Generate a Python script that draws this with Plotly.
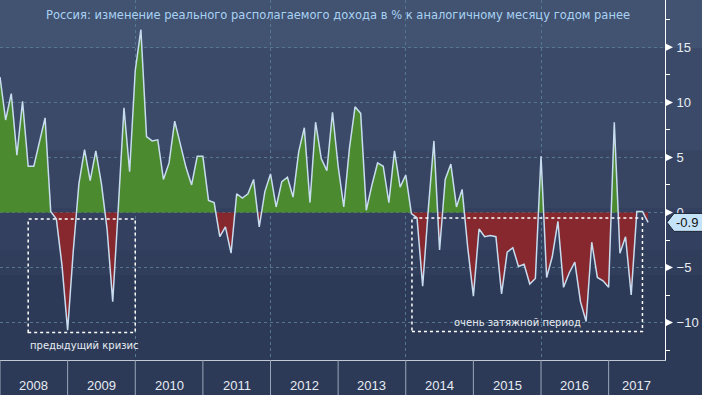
import plotly.graph_objects as go

# ---------------- data ----------------
years = ["2008", "2009", "2010", "2011", "2012", "2013", "2014", "2015", "2016", "2017"]
# Real disposable income, % y/y, monthly from Jan 2008
income_change = [
    12.3, 8.4, 10.8, 5.2, 10.1, 4.2, 4.2, 6.4, 8.6, 0.1, -0.6, -4.8,      # 2008
    -10.7, -3.5, 2.6, 5.7, 2.9, 5.6, 2.6, -1.5, -8.1, 0.5, 9.5, 3.7,      # 2009
    12.9, 16.6, 6.9, 6.5, 6.6, 3.0, 4.5, 8.3, 6.1, 4.1, 2.5, 5.1,         # 2010
    5.1, 1.1, 0.9, -2.2, -1.3, -3.7, 1.7, 1.3, 1.7, 3.0, -1.3, 1.9,       # 2011
    3.5, 0.5, 2.8, 3.2, 1.4, 5.5, 7.7, 0.9, 8.2, 4.9, 3.8, 9.1,           # 2012
    4.2, 0.5, 5.8, 9.6, 9.0, 0.2, 2.5, 4.5, 4.2, 0.9, 5.6, 2.3,           # 2013
    3.4, -0.1, -0.5, -6.7, 0.3, 6.5, -3.4, 3.0, 4.4, 0.5, 2.1, -3.2,      # 2014
    -7.6, -1.5, -2.2, -2.1, -2.2, -7.4, -3.6, -3.2, -4.9, -4.7, -6.5, -6.0,  # 2015
    5.1, -5.9, -4.0, -0.8, -6.8, -5.5, -4.5, -8.1, -9.9, -2.7, -5.9, -6.2,   # 2016
    -6.8, 8.2, -3.7, -2.2, -7.5, 0.1, 0.1, -0.9,                          # 2017
]
y_tick_vals = [-10, -5, 0, 5, 10, 15]
y_minor_vals = [-12.5, -7.5, -2.5, 2.5, 7.5, 12.5, 17.5]
title_text = "Россия: изменение реального располагаемого дохода в % к аналогичному месяцу годом ранее"
crisis_prev_text = "предыдущий кризис"
crisis_long_text = "очень затяжной период"

months = list(range(len(income_change)))
XMAX = 118.0
YMIN, YMAX = -13.4, 19.3
PLOT_H = 360.0

# insert zero crossings so that the two-colour fill meets exactly at 0
def with_crossings(xs, ys):
    px, py = [], []
    for i in range(len(xs)):
        if i > 0:
            y0, y1 = ys[i - 1], ys[i]
            if (y0 > 0 > y1) or (y0 < 0 < y1):
                xc = xs[i - 1] + (xs[i] - xs[i - 1]) * y0 / (y0 - y1)
                px.append(xc)
                py.append(0.0)
        px.append(xs[i])
        py.append(ys[i])
    return px, py

fx, fy = with_crossings(months, income_change)
pos = [max(v, 0.0) for v in fy]
neg = [min(v, 0.0) for v in fy]

fig = go.Figure()
fig.add_trace(go.Scatter(x=fx, y=pos, mode="none", fill="tozeroy",
                         fillcolor="#4b8a2e", hoverinfo="skip", showlegend=False))
fig.add_trace(go.Scatter(x=fx, y=neg, mode="none", fill="tozeroy",
                         fillcolor="#86282e", hoverinfo="skip", showlegend=False))
fig.add_trace(go.Scatter(x=months, y=income_change, mode="lines",
                         line=dict(color="#c8dcef", width=1.5),
                         hoverinfo="skip", showlegend=False))

shapes = []
# stepped background gradient
bands = [(0, 48, "#425372"), (48, 150, "#3b4a68"), (150, 208, "#374563"),
         (208, 250, "#33405f"), (250, 275, "#303d5b"), (275, 360, "#2d3a57")]
for top, bot, col in bands:
    shapes.append(dict(type="rect", xref="paper", yref="paper", x0=0, x1=1.06,
                       y0=1 - bot / PLOT_H, y1=1 - top / PLOT_H,
                       fillcolor=col, line=dict(width=0), layer="below"))

# year separators in the bottom band
for k in range(len(years)):
    shapes.append(dict(type="line", xref="x", yref="paper", x0=12 * k, x1=12 * k,
                       y0=0, y1=-35 / PLOT_H, line=dict(color="#9aa6b8", width=1)))

# triangle markers on the right axis
for v in y_tick_vals:
    shapes.append(dict(type="path", xref="paper", yref="y", xsizemode="pixel",
                       ysizemode="pixel", xanchor=1, yanchor=v,
                       path="M 0,-4 L 8,0 L 0,4 Z", fillcolor="white",
                       line=dict(width=0)))

# dotted highlight rectangles
shapes.append(dict(type="rect", xref="x", yref="y", x0=5.0, x1=24.0, y0=-10.9, y1=-0.6,
                   line=dict(color="white", width=1.5, dash="dot")))
shapes.append(dict(type="rect", xref="x", yref="y", x0=73.1, x1=114.0, y0=-10.8, y1=-0.5,
                   line=dict(color="white", width=1.5, dash="dot")))

# last-value callout
last_val = income_change[-1]
shapes.append(dict(type="path", xref="paper", yref="y", xsizemode="pixel",
                   ysizemode="pixel", xanchor=1, yanchor=last_val,
                   path="M 2,0 L 9,9 L 40,9 L 40,-9 L 9,-9 Z",
                   fillcolor="#c4e2f8", line=dict(color="#1a2232", width=1)))

annotations = [
    dict(text=title_text, xref="paper", yref="paper", x=0.508, y=1 - 15 / PLOT_H,
         xanchor="center", yanchor="middle", showarrow=False,
         font=dict(family="DejaVu Sans", size=11.5, color="#a9d2f2")),
    dict(text=crisis_prev_text, xref="x", yref="y", x=5.0, y=-12.1,
         xanchor="left", yanchor="middle", showarrow=False,
         font=dict(family="DejaVu Sans", size=10, color="#e8eef4")),
    dict(text=crisis_long_text, xref="x", yref="y", x=91.9, y=-10.0,
         xanchor="center", yanchor="middle", showarrow=False,
         font=dict(family="DejaVu Sans", size=10, color="#e8eef4")),
    dict(text=f"{last_val:.1f}", xref="paper", yref="y", x=1, y=last_val,
         xanchor="left", yanchor="middle", xshift=9, showarrow=False,
         font=dict(family="Liberation Sans", size=13, color="#111111")),
]
for k, yr in enumerate(years):
    x0 = 12 * k
    x1 = min(12 * k + 12, XMAX)
    annotations.append(dict(text=yr, xref="x", yref="paper", x=(x0 + x1) / 2,
                            y=-25 / PLOT_H, xanchor="center", yanchor="middle",
                            showarrow=False,
                            font=dict(family="Liberation Sans", size=13, color="#e6ecf3")))

fig.update_layout(
    width=702, height=395, autosize=False,
    margin=dict(l=0, r=37, t=0, b=35, pad=0),
    paper_bgcolor="#2d3a57", plot_bgcolor="rgba(0,0,0,0)",
    shapes=shapes, annotations=annotations, hovermode=False,
    xaxis=dict(range=[0, XMAX], tickvals=[0, 24, 48, 72, 96], showticklabels=False,
               ticks="", showgrid=True, griddash="dot", gridcolor="#56788f", gridwidth=1,
               zeroline=False, showline=True, linecolor="#c0c8d4", linewidth=1, fixedrange=True),
    yaxis=dict(range=[YMIN, YMAX], side="right", tickvals=y_tick_vals,
               ticktext=[str(v).replace("-", "\u2212") for v in y_tick_vals],
               ticks="outside", ticklen=8, tickcolor="rgba(0,0,0,0)",
               tickfont=dict(family="Liberation Sans", size=13, color="#e8eef4"),
               showgrid=True, griddash="dot", gridcolor="#56788f", gridwidth=1,
               zeroline=False, showline=True, linecolor="white", linewidth=1,
               minor=dict(tickvals=y_minor_vals, ticks="outside", ticklen=4,
                          tickcolor="white", showgrid=False),
               fixedrange=True),
)

fig.write_html("out.html", config={"displayModeBar": False},
               post_script="document.body.style.margin='0';document.body.style.overflow='hidden';")
